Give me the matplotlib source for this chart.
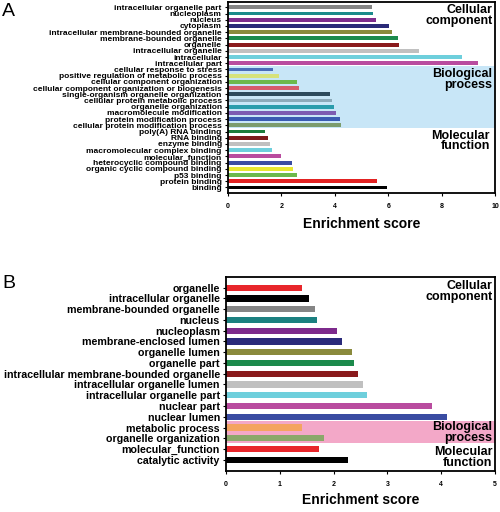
import matplotlib
matplotlib.use("Agg")
import matplotlib.pyplot as plt

plt.rcParams['font.family'] = ['Liberation Sans', 'DejaVu Sans']
plt.rcParams['font.weight'] = 'bold'

# Panel A data (top to bottom)
a_labels = [
    "intracellular organelle part", "nucleoplasm", "nucleus", "cytoplasm",
    "intracellular membrane-bounded organelle", "membrane-bounded organelle",
    "organelle", "intracellular organelle", "intracellular", "intracellular part",
    "cellular response to stress", "positive regulation of metabolic process",
    "cellular component organization", "cellular component organization or biogenesis",
    "single-organism organelle organization", "cellular protein metabolic process",
    "organelle organization", "macromolecule modification",
    "protein modification process", "cellular protein modification process",
    "poly(A) RNA binding", "RNA binding", "enzyme binding",
    "macromolecular complex binding", "molecular_function",
    "heterocyclic compound binding", "organic cyclic compound binding",
    "p53 binding", "protein binding", "binding",
]
a_values = [5.39, 5.42, 5.53, 6.02, 6.14, 6.38, 6.41, 7.14, 8.77, 9.38,
            1.69, 1.90, 2.57, 2.66, 3.82, 3.88, 3.96, 4.04, 4.20, 4.22,
            1.37, 1.48, 1.59, 1.64, 1.99, 2.39, 2.44, 2.57, 5.57, 5.95]
a_colors = ["#858585", "#1b8b8b", "#7d2c8c", "#2a2a78", "#8a8a3c", "#1c8a4c",
            "#8a1a1c", "#c0c0c0", "#6ecfdc", "#b94c9f",
            "#4a6cb8", "#d6e27c", "#6cb94c", "#d65c6c", "#2c4a5c", "#8caaba",
            "#2a9cac", "#7c5cb2", "#3a5cb2", "#7c9c6c",
            "#1c7c3c", "#7c1a1c", "#c0c0c0", "#6ecfdc", "#b94c9f", "#3a4ca2",
            "#e8e832", "#6cb94c", "#e22222", "#000000"]
a_xticks = [0, 2, 4, 6, 8, 10]

# Panel B data (top to bottom)
b_labels = [
    "organelle", "intracellular organelle", "membrane-bounded organelle",
    "nucleus", "nucleoplasm", "membrane-enclosed lumen", "organelle lumen",
    "organelle part", "intracellular membrane-bounded organelle",
    "intracellular organelle lumen", "intracellular organelle part",
    "nuclear part", "nuclear lumen", "metabolic process",
    "organelle organization", "molecular_function", "catalytic activity",
]
b_values = [1.41, 1.54, 1.65, 1.69, 2.06, 2.16, 2.35, 2.37, 2.45, 2.54, 2.62,
            3.83, 4.11, 1.41, 1.82, 1.73, 2.27]
b_colors = ["#e8262b", "#000000", "#858585", "#1b8080", "#7d2a8c", "#2a2a7a",
            "#8a8a3c", "#1c8a4c", "#8a1a1c", "#c0c0c0", "#6ecfdc", "#b94c9f",
            "#3a4ca2", "#f4a460", "#8aa86a", "#e8262b", "#000000"]
b_xticks = [0, 1, 2, 3, 4, 5]

fig = plt.figure(figsize=(5.0, 5.12), dpi=100)

def style(ax, xmax, xticks, lab_fs, lpad):
    for s in ax.spines.values():
        s.set_linewidth(1.3)
    ax.set_xlim(0, xmax)
    ax.set_xticks(xticks)
    ax.set_xticklabels([str(t) for t in xticks], fontsize=5, fontweight='bold')
    ax.tick_params(axis='x', length=2.5, width=0.8, pad=5)
    ax.tick_params(axis='y', length=2.5, width=0.8, pad=2, labelsize=lab_fs)
    ax.set_xlabel("Enrichment score", fontsize=10, fontweight='bold', labelpad=lpad)

ls = 0.85
# Panel A
axA = fig.add_axes([0.456, 0.623, 0.534, 0.373])
yA = list(range(len(a_labels)))
axA.axhspan(9.5, 19.5, color="#c8e6f7", zorder=0, lw=0)
axA.barh(yA, a_values, height=0.62, color=a_colors, zorder=2)
axA.set_ylim(29.9, -0.85)
axA.set_yticks(yA)
axA.set_yticklabels(a_labels, fontweight='bold')
style(axA, 10, a_xticks, 6.0, 5)
axA.text(0.99, 0.988, "Cellular\ncomponent", transform=axA.transAxes, ha='right', va='top',
         fontsize=9, fontweight='bold', linespacing=ls)
axA.text(0.99, 0.655, "Biological\nprocess", transform=axA.transAxes, ha='right', va='top',
         fontsize=9, fontweight='bold', linespacing=ls)
axA.text(0.98, 0.332, "Molecular\nfunction", transform=axA.transAxes, ha='right', va='top',
         fontsize=9, fontweight='bold', linespacing=ls)
fig.text(0.004, 0.995, "A", fontsize=14, ha='left', va='top', fontweight='normal')

# Panel B
axB = fig.add_axes([0.452, 0.080, 0.538, 0.379])
yB = list(range(len(b_labels)))
axB.axhspan(12.35, 14.45, color="#f3a8c8", zorder=0, lw=0)
axB.barh(yB, b_values, height=0.6, color=b_colors, zorder=2)
axB.set_ylim(17.05, -1.0)
axB.set_yticks(yB)
axB.set_yticklabels(b_labels, fontweight='bold')
style(axB, 5, b_xticks, 7.7, 3)
axB.text(0.99, 0.985, "Cellular\ncomponent", transform=axB.transAxes, ha='right', va='top',
         fontsize=9, fontweight='bold', linespacing=ls)
axB.text(0.99, 0.258, "Biological\nprocess", transform=axB.transAxes, ha='right', va='top',
         fontsize=9, fontweight='bold', linespacing=ls)
axB.text(0.99, 0.129, "Molecular\nfunction", transform=axB.transAxes, ha='right', va='top',
         fontsize=9, fontweight='bold', linespacing=ls)
fig.text(0.004, 0.462, "B", fontsize=14, ha='left', va='top', fontweight='normal')

fig.savefig("out.png", dpi=100)
